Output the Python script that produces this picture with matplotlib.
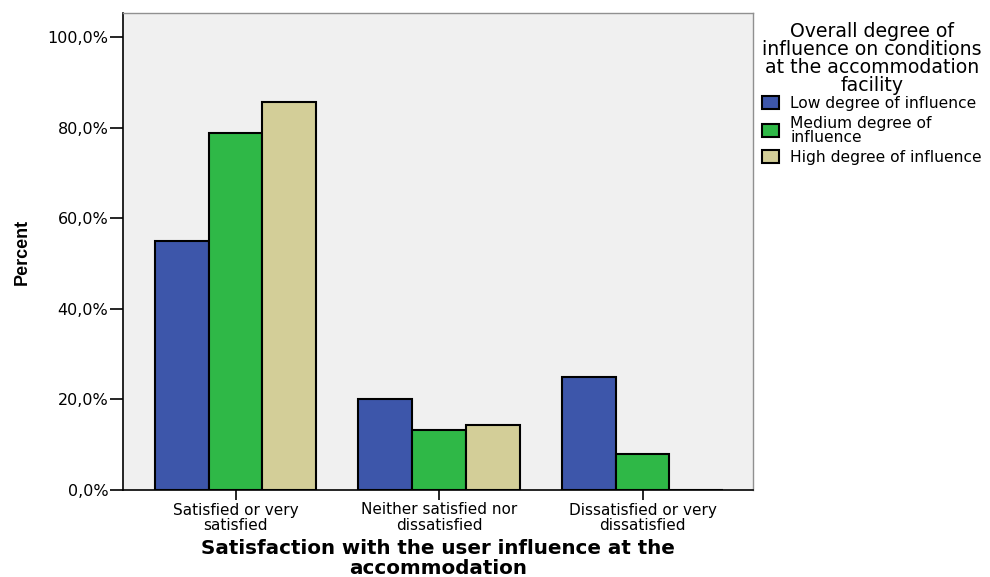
import matplotlib
matplotlib.use("Agg")
import matplotlib.pyplot as plt
import numpy as np
from matplotlib.patches import Patch

plt.rcParams['font.family'] = ['DejaVu Sans']

categories = ["Satisfied or very\nsatisfied", "Neither satisfied nor\ndissatisfied", "Dissatisfied or very\ndissatisfied"]
series_names = ["Low degree of influence", "Medium degree of\ninfluence", "High degree of influence"]
low = [55.0, 20.0, 25.0]
medium = [78.8, 13.2, 7.9]
high = [85.7, 14.3, 0.0]
colors = ["#3d56aa", "#2fb847", "#d3ce98"]
yticks = [0, 20, 40, 60, 80, 100]
ytick_labels = ["0,0%", "20,0%", "40,0%", "60,0%", "80,0%", "100,0%"]

fig = plt.figure(figsize=(9.9, 5.77), dpi=100)
ax = fig.add_axes([123/990, 1-490/577, 630/990, 477/577])
ax.set_facecolor("#f0f0f0")

x = np.arange(len(categories))
w = 0.264
for i, (vals, c) in enumerate(zip([low, medium, high], colors)):
    ax.bar(x + (i - 1) * w, vals, width=w, color=c, edgecolor="black", linewidth=1.5, zorder=3)

ax.set_xlim(-0.553, 2.543)
ax.set_ylim(0, 105.3)
ax.set_yticks(yticks)
ax.set_yticklabels(ytick_labels, fontsize=11.5)
ax.set_xticks(x)
ax.set_xticklabels(categories, fontsize=11, linespacing=1.0)
ax.tick_params(axis='y', direction='out', length=9.5, width=1.2, pad=1)
ax.tick_params(axis='x', direction='out', length=7, width=1.2, pad=2)

for s in ["top", "right"]:
    ax.spines[s].set_color("#909090")
    ax.spines[s].set_linewidth(1.0)
for s in ["left", "bottom"]:
    ax.spines[s].set_color("black")
    ax.spines[s].set_linewidth(1.2)

ax.set_ylabel("Percent", fontsize=13, fontweight="bold",
              family=['Liberation Sans Narrow', 'Liberation Sans', 'DejaVu Sans'], labelpad=12)
ax.set_xlabel("Satisfaction with the user influence at the\naccommodation", fontsize=14.3,
              fontweight="bold", labelpad=5, linespacing=1.05)

handles = [Patch(facecolor=c, edgecolor="black", linewidth=1.5) for c in colors]
leg = fig.legend(handles, series_names, loc="upper left", bbox_to_anchor=(759/990, 1-19/577),
                 frameon=False, fontsize=11.2,
                 title="Overall degree of\ninfluence on conditions\nat the accommodation\nfacility",
                 title_fontsize=13.6, handlelength=1.1, handleheight=0.9, handletextpad=0.7,
                 borderaxespad=0, borderpad=0.2, labelspacing=0.3)
leg.get_title().set_multialignment('center')
leg.get_title().set_linespacing(0.92)
for t in leg.get_texts():
    t.set_linespacing(0.95)
leg._legend_box.align = "left"
leg._legend_box.sep = 1

fig.savefig("out.png", dpi=100)
